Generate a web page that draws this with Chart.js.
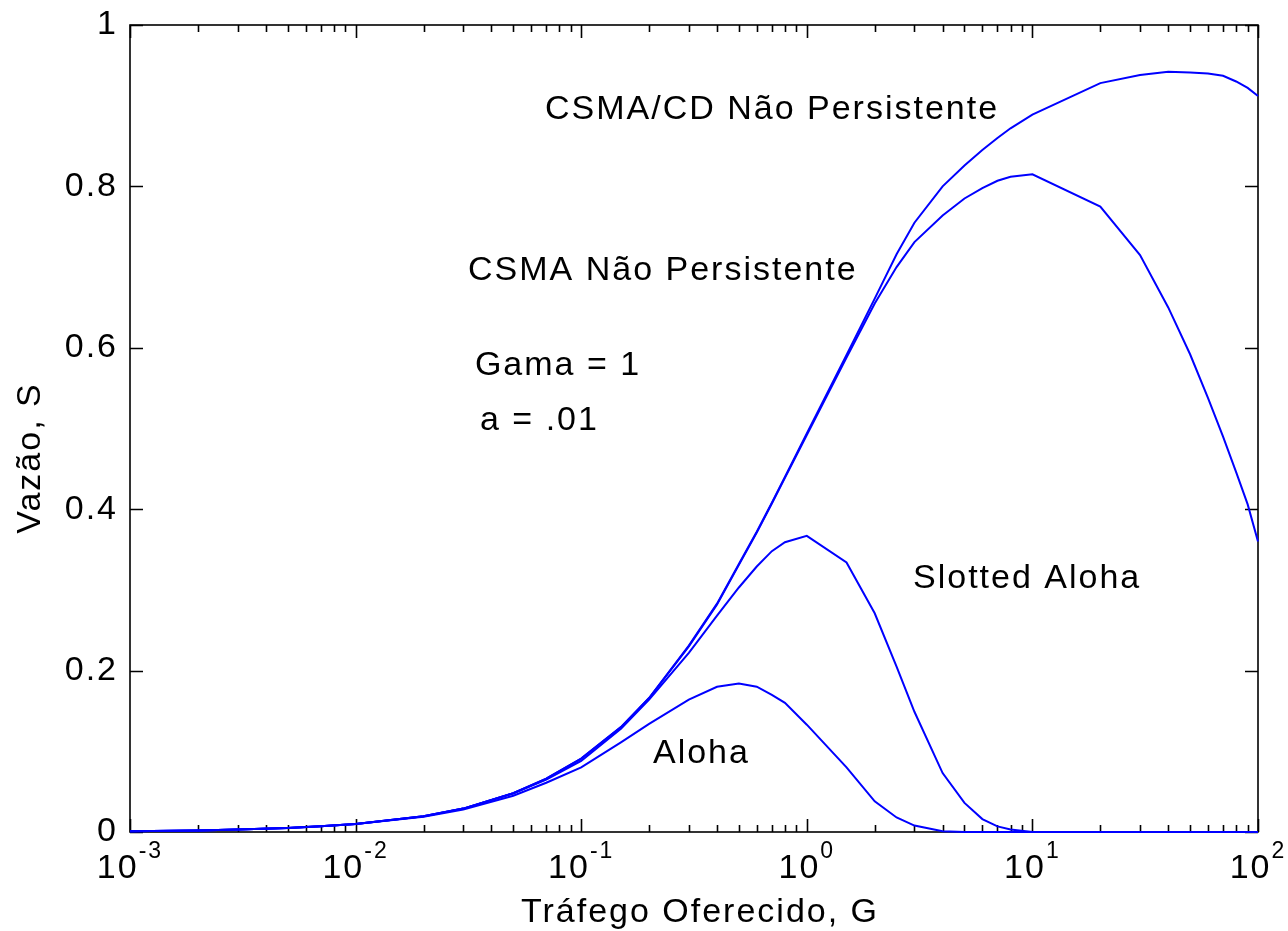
<!DOCTYPE html>
<html>
<head>
<meta charset="utf-8">
<script src="https://cdn.jsdelivr.net/npm/chart.js@4/dist/chart.umd.min.js"></script>
<style>
  html, body { margin: 0; padding: 0; background: #fff; }
</style>
</head>
<body>
<canvas id="chart" width="1288" height="931"></canvas>
<script>
// offered traffic G (log axis) and throughput S for each protocol
const trafficG = [0.001, 0.002, 0.003, 0.005, 0.007, 0.01, 0.02, 0.03, 0.05, 0.07,
  0.1, 0.15, 0.2, 0.3, 0.4, 0.5, 0.6, 0.7, 0.8, 1,
  1.5, 2, 2.5, 3, 4, 5, 6, 7, 8, 10,
  20, 30, 40, 50, 60, 70, 80, 90, 100];

const aloha = [0.001, 0.002, 0.003, 0.005, 0.007, 0.010, 0.019, 0.028, 0.045, 0.061,
  0.080, 0.111, 0.134, 0.164, 0.180, 0.184, 0.180, 0.170, 0.160, 0.133,
  0.080, 0.038, 0.018, 0.008, 0.001, 0, 0, 0, 0, 0,
  0, 0, 0, 0, 0, 0, 0, 0, 0];

const slottedAloha = [0.001, 0.002, 0.003, 0.005, 0.007, 0.010, 0.0196, 0.029, 0.048, 0.065,
  0.088, 0.128, 0.164, 0.222, 0.268, 0.303, 0.329, 0.348, 0.359, 0.367,
  0.334, 0.271, 0.205, 0.149, 0.073, 0.036, 0.016, 0.007, 0.003, 0,
  0, 0, 0, 0, 0, 0, 0, 0, 0];

const csmaNP = [0.001, 0.002, 0.003, 0.005, 0.007, 0.0098, 0.0196, 0.029, 0.048, 0.066,
  0.091, 0.130, 0.166, 0.230, 0.282, 0.331, 0.371, 0.407, 0.439, 0.492,
  0.588, 0.655, 0.700, 0.731, 0.764, 0.785, 0.798, 0.807, 0.812, 0.815,
  0.775, 0.715, 0.650, 0.592, 0.538, 0.490, 0.446, 0.406, 0.360];

const csmaCD = [0.001, 0.002, 0.003, 0.005, 0.007, 0.0098, 0.0196, 0.029, 0.048, 0.066,
  0.091, 0.130, 0.166, 0.231, 0.283, 0.332, 0.372, 0.408, 0.440, 0.494,
  0.591, 0.661, 0.716, 0.755, 0.800, 0.826, 0.845, 0.860, 0.872, 0.889,
  0.928, 0.938, 0.942, 0.941, 0.940, 0.937, 0.930, 0.922, 0.912];

const yTicks = [0, 0.2, 0.4, 0.6, 0.8, 1];
const yTickLabels = ['0', '0.2', '0.4', '0.6', '0.8', '1'];
const xDecades = [-3, -2, -1, 0, 1, 2];

// text notes placed in data coords [G, S, text]
const notes = [
  [0.0691, 0.8835, 'CSMA/CD Não Persistente'],
  [0.0315, 0.684, 'CSMA Não Persistente'],
  [0.0338, 0.566, 'Gama = 1'],
  [0.0356, 0.498, 'a = .01'],
  [2.956, 0.3024, 'Slotted Aloha'],
  [0.208, 0.0855, 'Aloha']
];

const FONT = "'Liberation Sans', Arial, sans-serif";

function series(vals) {
  return trafficG.map((g, i) => ({ x: g, y: vals[i] }));
}

function lineSet(label, vals) {
  return {
    label: label,
    data: series(vals),
    borderColor: '#0000ff',
    borderWidth: 2,
    pointRadius: 0,
    tension: 0,
    fill: false,
    clip: false
  };
}

const matlabAxes = {
  id: 'matlabAxes',
  beforeDatasetsDraw(chart) {
    const { ctx, chartArea: a, scales } = chart;
    const x = scales.x, y = scales.y;
    ctx.save();
    ctx.strokeStyle = '#000';
    ctx.lineWidth = 1.6;
    ctx.strokeRect(a.left, a.top, a.right - a.left, a.bottom - a.top);
    ctx.beginPath();
    yTicks.forEach(v => {
      const py = Math.round(y.getPixelForValue(v)) + 0.5;
      ctx.moveTo(a.left, py); ctx.lineTo(a.left + 13, py);
      ctx.moveTo(a.right, py); ctx.lineTo(a.right - 13, py);
    });
    xDecades.forEach(d => {
      for (let m = 1; m <= 9; m++) {
        const v = m * Math.pow(10, d);
        if (v > 100) break;
        const len = m === 1 ? 13 : 7;
        const px = Math.round(x.getPixelForValue(v)) + 0.5;
        ctx.moveTo(px, a.bottom); ctx.lineTo(px, a.bottom - len);
        ctx.moveTo(px, a.top); ctx.lineTo(px, a.top + len);
      }
    });
    ctx.stroke();
    ctx.restore();
  },
  afterDraw(chart) {
    const { ctx, chartArea: a, scales } = chart;
    const x = scales.x, y = scales.y;
    ctx.save();
    ctx.fillStyle = '#000';
    ctx.letterSpacing = '2px';

    // y tick labels
    ctx.font = '34px ' + FONT;
    ctx.textAlign = 'right';
    ctx.textBaseline = 'middle';
    yTicks.forEach((v, i) => {
      ctx.fillText(yTickLabels[i], a.left - 12, y.getPixelForValue(v));
    });

    // x tick labels 10^n
    ctx.textBaseline = 'alphabetic';
    ctx.textAlign = 'left';
    xDecades.forEach(d => {
      ctx.font = '34px ' + FONT;
      const wBase = ctx.measureText('10').width;
      ctx.font = '23px ' + FONT;
      const exp = String(d);
      const wExp = ctx.measureText(exp).width;
      const px = x.getPixelForValue(Math.pow(10, d));
      const left = px - (wBase + wExp) / 2;
      ctx.font = '34px ' + FONT;
      ctx.fillText('10', left, a.bottom + 46);
      ctx.font = '23px ' + FONT;
      ctx.fillText(exp, left + wBase, a.bottom + 26);
    });

    // axis titles
    ctx.font = '34px ' + FONT;
    ctx.textAlign = 'center';
    ctx.fillText('Tráfego Oferecido, G', (a.left + a.right) / 2 + 6, a.bottom + 90);
    ctx.save();
    ctx.translate(40, 458);
    ctx.rotate(-Math.PI / 2);
    ctx.fillText('Vazão, S', 0, 0);
    ctx.restore();

    // curve notes
    ctx.textAlign = 'left';
    notes.forEach(n => {
      ctx.fillText(n[2], x.getPixelForValue(n[0]), y.getPixelForValue(n[1]));
    });
    ctx.restore();
  }
};

new Chart(document.getElementById('chart'), {
  type: 'line',
  data: {
    datasets: [
      lineSet('CSMA/CD Não Persistente', csmaCD),
      lineSet('CSMA Não Persistente', csmaNP),
      lineSet('Slotted Aloha', slottedAloha),
      lineSet('Aloha', aloha)
    ]
  },
  options: {
    responsive: false,
    animation: false,
    events: [],
    layout: { padding: { top: 25, right: 30, left: 0, bottom: 0 } },
    plugins: { legend: { display: false }, tooltip: { enabled: false } },
    scales: {
      x: {
        type: 'logarithmic',
        min: 0.001,
        max: 100,
        ticks: { display: false },
        grid: { display: false },
        border: { display: false },
        afterFit(s) { s.height = 99; }
      },
      y: {
        type: 'linear',
        min: 0,
        max: 1,
        ticks: { display: false },
        grid: { display: false },
        border: { display: false },
        afterFit(s) { s.width = 130; }
      }
    }
  },
  plugins: [matlabAxes]
});
</script>
</body>
</html>
